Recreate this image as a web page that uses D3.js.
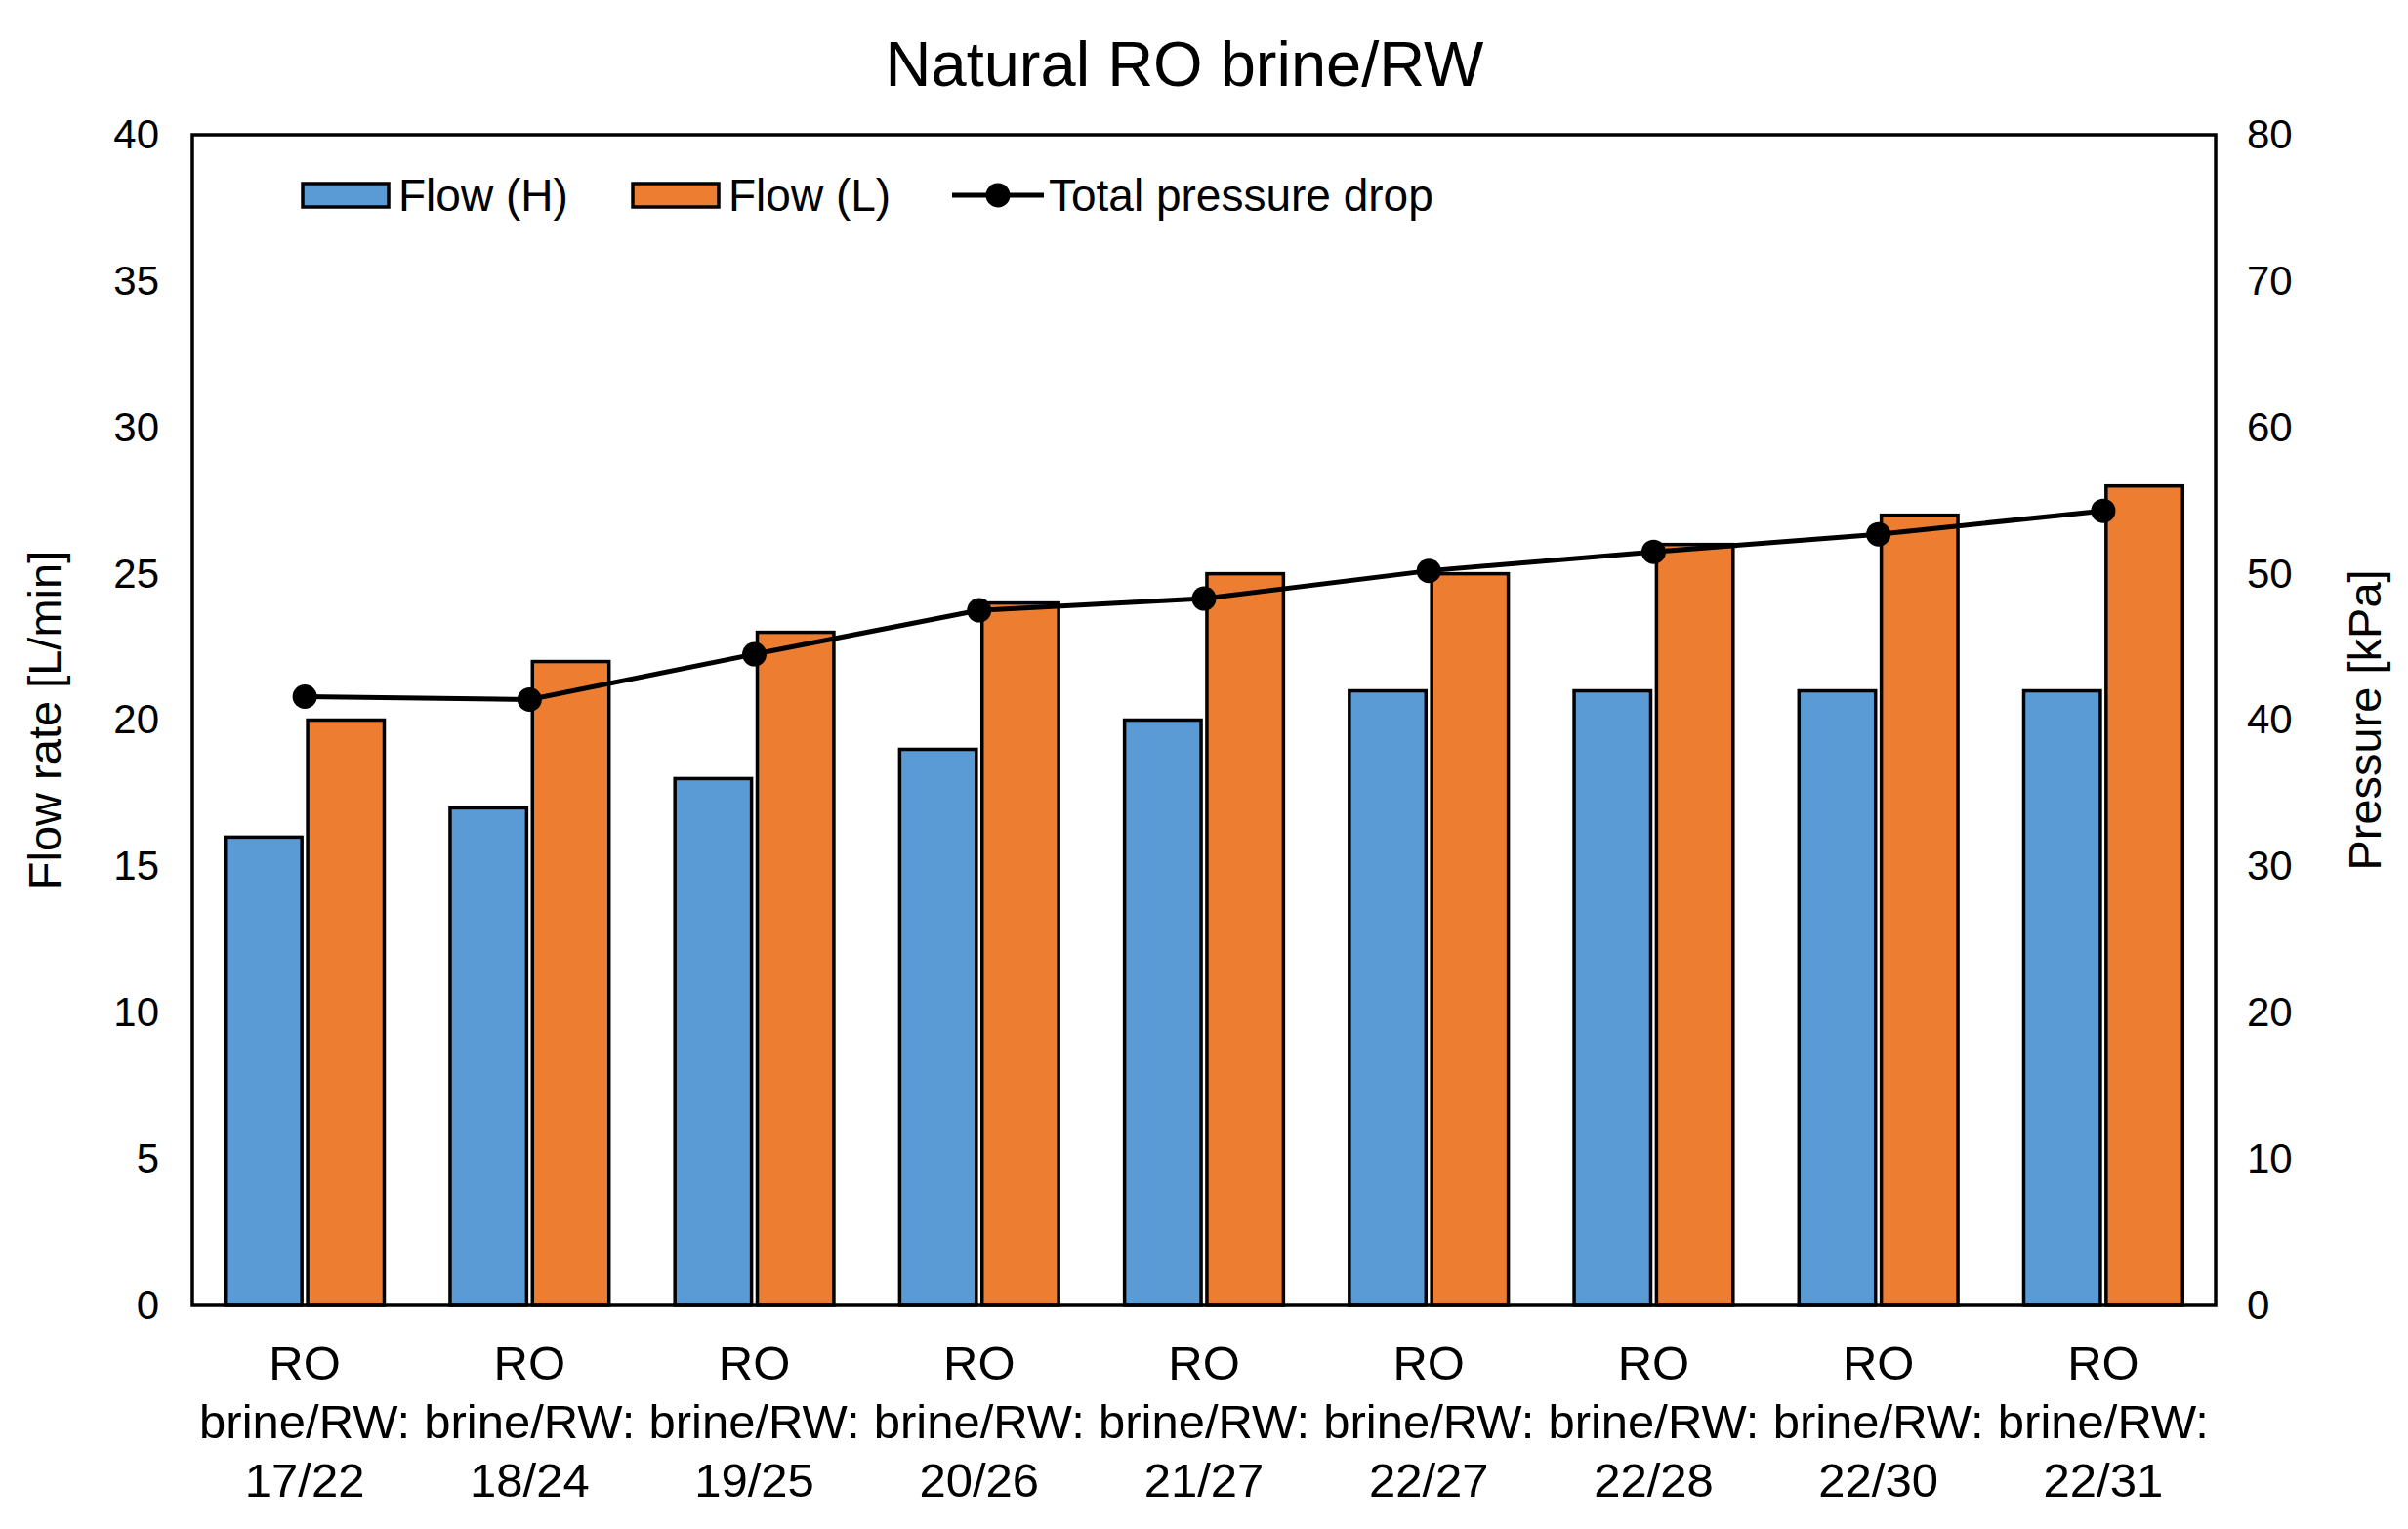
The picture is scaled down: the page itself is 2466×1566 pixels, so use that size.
<!DOCTYPE html>
<html>
<head>
<meta charset="utf-8">
<script src="https://cdn.jsdelivr.net/npm/d3@7"></script>
<style>
    body { margin: 0; background: #fff; }
    svg text { font-family: "Liberation Sans", Arial, sans-serif; fill: #000; }
</style>
</head>
<body>
<div class="chart"></div>
<script>
// data
const categories = ["17/22", "18/24", "19/25", "20/26", "21/27", "22/27", "22/28", "22/30", "22/31"];
const flowH = [16, 17, 18, 19, 20, 21, 21, 21, 21];
const flowL = [20, 22, 23, 24, 25, 25, 26, 27, 28];
const pressureDrop = [41.6, 41.4, 44.5, 47.5, 48.3, 50.2, 51.5, 52.7, 54.3];
const leftTicks = [0, 5, 10, 15, 20, 25, 30, 35, 40];
const rightTicks = [0, 10, 20, 30, 40, 50, 60, 70, 80];
const seriesNames = ["Flow (H)", "Flow (L)", "Total pressure drop"];

const width = 2466, height = 1566;
const margin = { left: 197, right: 2269, top: 138, bottom: 1337 };
const colors = ["#5B9BD5", "#ED7D31"];

// #region main svg
let svg = d3.select(".chart")
    .append("svg")
    .attr("width", width)
    .attr("height", height);

svg.append("rect").attr("width", width).attr("height", height).attr("fill", "#fff");
// #endregion

// #region scales
let xScale = d3.scaleBand()
    .domain(categories)
    .range([margin.left, margin.right])
    .padding(0);
let xSub = d3.scaleBand()
    .domain([0, 1])
    .range([0, xScale.bandwidth()])
    .paddingInner(0.07)
    .paddingOuter(0.4);
let yScale = d3.scaleLinear().domain([0, 40]).range([margin.bottom, margin.top]);
let y2Scale = d3.scaleLinear().domain([0, 80]).range([margin.bottom, margin.top]);
// #endregion

// #region axes (labels only, no tick marks)
let gLeft = svg.append("g")
    .attr("class", "yScale")
    .attr("transform", "translate(" + margin.left + ",0)")
    .call(d3.axisLeft(yScale).tickValues(leftTicks).tickSize(0).tickPadding(34));
gLeft.select(".domain").remove();
gLeft.selectAll("text").attr("font-size", 42).attr("font-family", null);

let gRight = svg.append("g")
    .attr("class", "y2Scale")
    .attr("transform", "translate(" + margin.right + ",0)")
    .call(d3.axisRight(y2Scale).tickValues(rightTicks).tickSize(0).tickPadding(32));
gRight.select(".domain").remove();
gRight.selectAll("text").attr("font-size", 42).attr("font-family", null);

let gX = svg.append("g")
    .attr("class", "xScale")
    .attr("transform", "translate(0," + margin.bottom + ")")
    .call(d3.axisBottom(xScale).tickSize(0).tickFormat(""));
gX.select(".domain").remove();
gX.selectAll(".tick").each(function (d) {
    let t = d3.select(this).append("text")
        .attr("text-anchor", "middle")
        .attr("font-size", 49)
        .attr("y", 76);
    ["RO", "brine/RW:", d].forEach((line, i) => {
        t.append("tspan").attr("x", 0).attr("dy", i == 0 ? 0 : 60).text(line);
    });
});
// #endregion

// #region bars
let gBars = svg.append("g").attr("class", "gBarChart");
[flowH, flowL].forEach((values, s) => {
    gBars.selectAll(".bar" + s)
        .data(values)
        .enter()
        .append("rect")
        .attr("class", "bar" + s)
        .attr("x", (d, i) => xScale(categories[i]) + xSub(s))
        .attr("y", d => yScale(d))
        .attr("width", xSub.bandwidth())
        .attr("height", d => yScale(0) - yScale(d))
        .attr("fill", colors[s])
        .attr("stroke", "#000")
        .attr("stroke-width", 3.5);
});
// #endregion

// #region pressure line
let line = d3.line()
    .x((d, i) => xScale(categories[i]) + xScale.bandwidth() / 2)
    .y(d => y2Scale(d));
svg.append("path")
    .datum(pressureDrop)
    .attr("d", line)
    .attr("fill", "none")
    .attr("stroke", "#000")
    .attr("stroke-width", 5);
svg.selectAll(".dot")
    .data(pressureDrop)
    .enter()
    .append("circle")
    .attr("class", "dot")
    .attr("cx", (d, i) => xScale(categories[i]) + xScale.bandwidth() / 2)
    .attr("cy", d => y2Scale(d))
    .attr("r", 12.5)
    .attr("fill", "#000");
// #endregion

// #region frame
svg.append("rect")
    .attr("x", margin.left)
    .attr("y", margin.top)
    .attr("width", margin.right - margin.left)
    .attr("height", margin.bottom - margin.top)
    .attr("fill", "none")
    .attr("stroke", "#000")
    .attr("stroke-width", 3.5);
// #endregion

// #region titles
svg.append("text")
    .attr("x", 1213)
    .attr("y", 88)
    .attr("text-anchor", "middle")
    .attr("font-size", 65)
    .text("Natural RO brine/RW");

svg.append("text")
    .attr("transform", "translate(62," + ((margin.top + margin.bottom) / 2) + ") rotate(-90)")
    .attr("text-anchor", "middle")
    .attr("font-size", 47)
    .text("Flow rate [L/min]");

svg.append("text")
    .attr("transform", "translate(2438," + ((margin.top + margin.bottom) / 2) + ") rotate(-90)")
    .attr("text-anchor", "middle")
    .attr("font-size", 47)
    .text("Pressure [kPa]");
// #endregion

// #region legend
let legendY = 200;
let legendX = [310, 648, 975];
let gLegend = svg.append("g").attr("class", "gLegend");
[0, 1].forEach(s => {
    gLegend.append("rect")
        .attr("x", legendX[s])
        .attr("y", legendY - 12)
        .attr("width", 88)
        .attr("height", 24)
        .attr("fill", colors[s])
        .attr("stroke", "#000")
        .attr("stroke-width", 3.5);
    gLegend.append("text")
        .attr("x", legendX[s] + 98)
        .attr("y", legendY + 16)
        .attr("font-size", 46)
        .text(seriesNames[s]);
});
gLegend.append("line")
    .attr("x1", legendX[2])
    .attr("x2", legendX[2] + 94)
    .attr("y1", legendY)
    .attr("y2", legendY)
    .attr("stroke", "#000")
    .attr("stroke-width", 5);
gLegend.append("circle")
    .attr("cx", legendX[2] + 47)
    .attr("cy", legendY)
    .attr("r", 12.5)
    .attr("fill", "#000");
gLegend.append("text")
    .attr("x", legendX[2] + 99)
    .attr("y", legendY + 16)
    .attr("font-size", 46)
    .text(seriesNames[2]);
// #endregion
</script>
</body>
</html>
